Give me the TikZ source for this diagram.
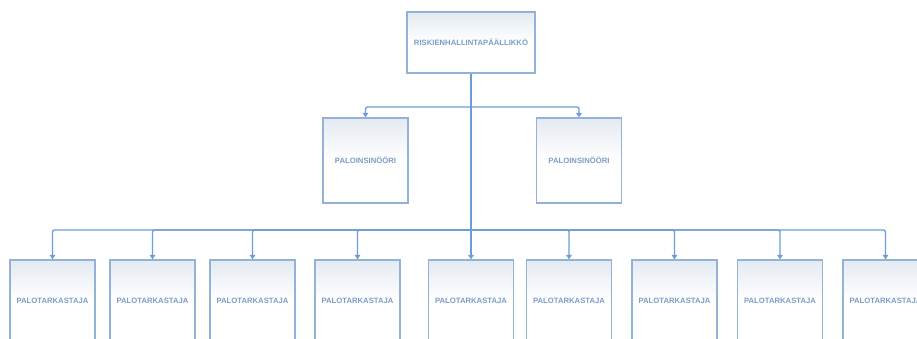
\documentclass[tikz,border=0pt]{standalone}
\usepackage{fontspec}
\setmainfont{Liberation Sans}
\usetikzlibrary{arrows.meta}
\definecolor{boxline}{HTML}{94B2D8}
\definecolor{txtc}{HTML}{7C9DCA}
\definecolor{conn}{HTML}{6E9DD3}
\definecolor{topfill}{HTML}{E4EAF2}
\tikzset{
  orgbox/.style={draw=boxline, line width=1.2pt, top color=topfill, bottom color=white, middle color=white,
    text=txtc, font=\fontsize{7.7}{9}\selectfont\bfseries, inner sep=0pt},
  topbox/.style={orgbox, minimum width=128pt, minimum height=61pt},
  engbox/.style={orgbox, minimum width=85pt, minimum height=85pt},
  inspbox/.style={orgbox, minimum width=85pt, minimum height=82pt},
  link/.style={draw=conn, line width=1.3pt, rounded corners=2pt, -{Triangle[length=4.5pt,width=5.5pt]}},
  plain/.style={draw=conn, line width=1.3pt}
}
\begin{document}
\begin{tikzpicture}[x=1pt,y=-1pt]
\useasboundingbox (0,0) rectangle (917,339);
\clip (0,0) rectangle (917,339);
\fill[white] (0,0) rectangle (917,339);
\node[topbox] (top) at (471,42.5) {RISKIENHALLINTAPÄÄLLIKKÖ};
\node[engbox] (e1) at (365.5,160.5) {PALOINSINÖÖRI};
\node[engbox] (e2) at (579,160.5) {PALOINSINÖÖRI};
\node[inspbox] (p1) at (52.5,301) {PALOTARKASTAJA};
\node[inspbox] (p2) at (152.5,301) {PALOTARKASTAJA};
\node[inspbox] (p3) at (252.5,301) {PALOTARKASTAJA};
\node[inspbox] (p4) at (357.5,301) {PALOTARKASTAJA};
\node[inspbox] (p5) at (471,301) {PALOTARKASTAJA};
\node[inspbox] (p6) at (569,301) {PALOTARKASTAJA};
\node[inspbox] (p7) at (674.5,301) {PALOTARKASTAJA};
\node[inspbox] (p8) at (780,301) {PALOTARKASTAJA};
\node[inspbox] (p9) at (885.5,301) {PALOTARKASTAJA};
\coordinate (upbus) at (471,107);
\coordinate (lowbus) at (471,230);
\draw[plain] (top.south) -- (lowbus);
\foreach \e in {e1,e2} {\draw[link] (upbus) -| (\e.north);}
\foreach \p in {p1,p2,p3,p4,p5,p6,p7,p8,p9} {\draw[link] (lowbus) -| (\p.north);}
\end{tikzpicture}
\end{document}
